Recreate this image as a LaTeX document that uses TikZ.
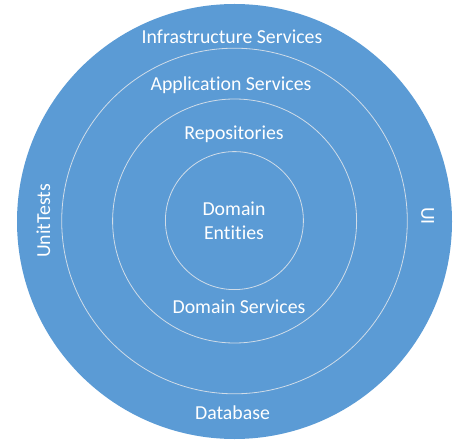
\documentclass[tikz,border=0pt]{standalone}
\usepackage{fontspec}
\setmainfont{Carlito}[Ligatures={NoCommon}]
\definecolor{ringblue}{HTML}{5B9BD5}
\definecolor{ringline}{HTML}{D0DCE8}
\tikzset{
  ring/.style={draw=ringline, line width=0.8bp},
  lbl/.style={text=white, font=\fontsize{19.8bp}{23.7bp}\selectfont, inner sep=0pt, align=center}
}
\begin{document}
\begin{tikzpicture}[x=1bp,y=-1bp]
\useasboundingbox (0,0) rectangle (469,443);
\fill[ringblue] (234.5,221.5) circle (217.5);
\draw[ring] (234.5,221) circle (172.8);
\draw[ring] (234.6,221) circle (122);
\draw[ring] (234.4,220.6) circle (69);
\node[lbl] (infra) at (232,36.7) {Infrastructure Services};
\node[lbl] (app) at (231,85) {Application Services};
\node[lbl] (repo) at (234,134) {Repositories};
\node[lbl] (ent) at (234,221) {Domain\\Entities};
\node[lbl] (dsvc) at (239,306.7) {Domain Services};
\node[lbl] (db) at (232.5,412.7) {Database};
\node[lbl, rotate=90] (tests) at (43.3,220.8) {UnitTests};
\node[lbl, rotate=-90] (ui) at (427.7,216) {UI};
\end{tikzpicture}
\end{document}
